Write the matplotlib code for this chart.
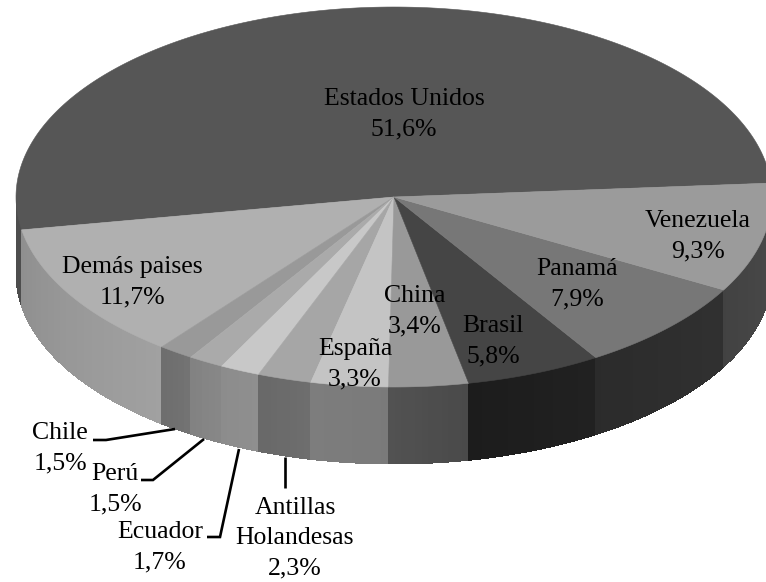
import numpy as np
import matplotlib
matplotlib.use('Agg')
import matplotlib.pyplot as plt

plt.rcParams['font.family'] = ['Liberation Serif', 'DejaVu Serif']

# data, in drawing order going counter-clockwise from the right edge
paises = ['Estados Unidos', 'Demás paises', 'Chile', 'Perú', 'Ecuador',
          'Antillas\nHolandesas', 'España', 'China', 'Brasil', 'Panamá', 'Venezuela']
valores = [51.6, 11.7, 1.5, 1.5, 1.7, 2.3, 3.3, 3.4, 5.8, 7.9, 9.3]

# grey of each top face and of the wall (left end, right end)
tapa = ['#565656', '#b0b0b0', '#999999', '#aaaaaa', '#c8c8c8', '#a6a6a6',
        '#c4c4c4', '#999999', '#454545', '#777777', '#9b9b9b']
pared_a = [0.30, 0.56, 0.43, 0.51, 0.55, 0.41, 0.49, 0.32, 0.11, 0.17, 0.26]
pared_b = [0.30, 0.63, 0.45, 0.53, 0.56, 0.43, 0.48, 0.29, 0.13, 0.19, 0.29]

# label position (centre of text block) in image pixels
etiqueta_x = [404, 132, 60, 115, 160, 295, 355, 415, 493, 577, 698]
etiqueta_y = [114, 282, 448, 489, 547, 538, 364, 311, 341, 284, 236]

# leader lines
lineas = [
    ([93, 106, 175], [440, 440, 429]),
    ([141, 153, 204], [480, 480, 439]),
    ([207, 220, 239], [537, 537, 449]),
    ([285, 285], [457, 488]),
]

cx, cy = 394, 197
rx, ry = 378, 190
alto = 77
inicio = 4.2

fig = plt.figure(figsize=(7.66, 5.82), dpi=100)
ax = fig.add_axes([0, 0, 1, 1])
ax.set_xlim(0, 766)
ax.set_ylim(582, 0)
ax.axis('off')


def borde(ang):
    r = np.radians(ang)
    return cx + rx * np.cos(r), cy - ry * np.sin(r)


bordes = inicio + np.cumsum([0] + valores) * 3.6

# wall first, only the part facing the viewer
for i in range(len(valores)):
    a0 = max(bordes[i], 180)
    a1 = min(bordes[i + 1], 360)
    if a1 <= a0:
        continue
    tiras = max(2, int((a1 - a0) / 1.0))
    cortes = np.linspace(a0, a1, tiras + 1)
    for j in range(tiras):
        t = j / max(tiras - 1, 1)
        gris = pared_a[i] + (pared_b[i] - pared_a[i]) * t
        x, y = borde(np.linspace(cortes[j], cortes[j + 1] + 0.3, 4))
        ax.fill(np.r_[x, x[::-1]], np.r_[y, y[::-1] + alto], color=str(gris), lw=0, antialiased=False)

# top faces
for i in range(len(valores)):
    x, y = borde(np.linspace(bordes[i], bordes[i + 1], 200))
    ax.fill(np.r_[cx, x], np.r_[cy, y], color=tapa[i], lw=0.4)

for xs, ys in lineas:
    ax.plot(xs, ys, color='black', lw=1.9, solid_joinstyle='miter', solid_capstyle='butt')

for i, nombre in enumerate(paises):
    texto = nombre + '\n' + f'{valores[i]:.1f}%'.replace('.', ',')
    ax.text(etiqueta_x[i], etiqueta_y[i], texto, ha='center', va='center',
            fontsize=18.5, linespacing=1.5, color='black')

fig.savefig('out.png', dpi=100)
